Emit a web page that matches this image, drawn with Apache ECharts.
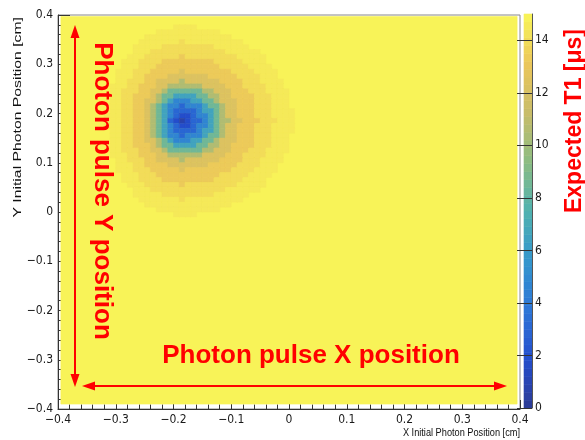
<!DOCTYPE html>
<html>
<head>
<meta charset="utf-8">
<title>Expected T1 map</title>
<script src="https://cdn.jsdelivr.net/npm/echarts@6/dist/echarts.min.js"></script>
<style>
  html, body { margin: 0; padding: 0; background: #fff; }
  #chart { width: 585px; height: 440px; }
</style>
</head>
<body>
<div id="chart"></div>
<script>
// Histogram binning (cm)
const binWidth = 0.01
const histXRange = [-0.395, 0.395]
const histYRange = [-0.39, 0.397]
const backgroundValue = 14.9

// Blob window: top-left bin edge, one string per row (top to bottom)
const blobLeft = -0.32
const blobTop = 0.38
const levelCodes = '0123456789a'
const levelValues = [0.8, 1.8, 3.0, 4.6, 6.5, 8.5, 10.5, 12.3, 13.3, 14.0, 14.5]
const blobRows = [
  '............aaaa.................',
  '.........aaaaaaaaaaa.............',
  '.......aaaaaaaaaaaaaaa...........',
  '......aaaaaaa9aaaaaaaaaa.........',
  '.....aaaaa999999999aaaaaa........',
  '.....aaa9999999999999aaaaaa......',
  '....aaa9999998999999999aaaaa.....',
  '...aaa999988888888899999aaaa.....',
  '...aaa9998888888888899999aaaa....',
  '..aaa999888887888888889999aaaa...',
  '..aaa9988887777777888889999aaa...',
  '..aa99988777767777778888999aaaa..',
  '.aaa998887766666677778889999aaa..',
  '.aa9998877655555566777888999aaaa.',
  '.aa99888765544445566778888999aaa.',
  '.aa99887765433344556777888999aaa.',
  '.aa99887654332333455677888999aaa.',
  '.aa99887654322223445677888999aaaa',
  'aaa99887654321123345677888999aaaa',
  'aaa998876542101223456677888999aaa',
  'aaa99887654321123345677888999aaaa',
  '.aa99887654322223445677888999aaaa',
  '.aa99887654332333455677888999aaa.',
  '.aa99887765433344556777888999aaa.',
  '.aa99888765544445566778888999aaa.',
  '.aa9998877655555566777888999aaaa.',
  '.aaa998887766666677778889999aaa..',
  '..aa99988777767777778888999aaaa..',
  '..aaa9988887777777888889999aaa...',
  '..aaa999888887888888889999aaaa...',
  '...aaa9998888888888899999aaaa....',
  '...aaa999988888888899999aaaa.....',
  '....aaa9999998999999999aaaaa.....',
  '.....aaa9999999999999aaaaaa......',
  '.....aaaaa999999999aaaaaa........',
  '......aaaaaaa9aaaaaaaaaa.........',
  '.......aaaaaaaaaaaaaaa...........',
  '.........aaaaaaaaaaa.............',
  '............aaaa.................',
]

// Colour scale
const colorMin = 0
const colorMax = 15
const colorSteps = 50
const colorTicks = [0, 2, 4, 6, 8, 10, 12, 14]
const palette = ['#2c3a94', '#244ecd', '#2d76d7', '#3496cd', '#50b2af', '#8cbc82', '#c8bc69', '#ebc65a', '#f9f658']

const xTitle = 'X Initial Photon Position [cm]'
const yTitle = 'Y Initial Photon Position [cm]'
const zTitle = 'Expected T1 [\u03bcs]'

const tickFont = '"Liberation Sans Narrow", "DejaVu Sans Condensed", sans-serif'
const red = '#ff0000'

function cmLabel(v) {
  if (Math.abs(v) < 1e-9) return '0'
  return v.toFixed(1).replace('-', '\u2212')
}

// [x0, x1, y0, y1, value]
const cells = [[histXRange[0], histXRange[1], histYRange[0], histYRange[1], backgroundValue]]
blobRows.forEach((row, r) => {
  for (let c = 0; c < row.length; c += 1) {
    const k = levelCodes.indexOf(row[c])
    if (k < 0) continue
    const x0 = blobLeft + c * binWidth
    const y1 = blobTop - r * binWidth
    cells.push([x0, x0 + binWidth, y1 - binWidth, y1, levelValues[k]])
  }
})

// palette bar bands, same layout: [x0, x1, v0, v1, vmid]
const bands = []
const step = (colorMax - colorMin) / colorSteps
for (let i = 0; i < colorSteps; i += 1) {
  const v0 = colorMin + i * step
  bands.push([0, 1, v0, v0 + step, v0 + step / 2])
}

function rectItem(params, api) {
  const a = api.coord([api.value(0), api.value(3)])
  const b = api.coord([api.value(1), api.value(2)])
  const color = api.visual('color')
  return {
    type: 'rect',
    shape: { x: a[0], y: a[1], width: b[0] - a[0], height: b[1] - a[1] },
    style: { fill: color, stroke: color, lineWidth: 0.6 },
  }
}

const chart = echarts.init(document.getElementById('chart'))

const cmAxis = (tickLen) => ({
  type: 'value',
  min: -0.4,
  max: 0.4,
  interval: 0.1,
  axisLine: { show: true, onZero: false, lineStyle: { color: '#333', width: 1 } },
  axisTick: { show: true, inside: true, length: tickLen, lineStyle: { color: '#333' } },
  minorTick: { show: true, splitNumber: 5, length: tickLen / 2, lineStyle: { color: '#333' } },
  splitLine: { show: false },
  axisLabel: { formatter: cmLabel, fontSize: 12, color: '#1a1a1a', fontFamily: tickFont, margin: 5 },
})

chart.setOption({
  animation: false,
  grid: [
    { left: 58, top: 15, width: 462, height: 394, show: true, borderColor: '#888', borderWidth: 1 },
    { left: 524, top: 14, width: 8, height: 394, show: false },
  ],
  xAxis: [
    Object.assign(cmAxis(9), { gridIndex: 0 }),
    { gridIndex: 1, type: 'value', min: 0, max: 1, show: false },
  ],
  yAxis: [
    Object.assign(cmAxis(12), { gridIndex: 0 }),
    {
      gridIndex: 1,
      type: 'value',
      position: 'right',
      min: colorMin,
      max: colorMax,
      z: 10,
      axisLine: { show: true, onZero: false, lineStyle: { color: '#555' } },
      axisTick: { show: true, inside: true, length: 15, customValues: colorTicks, lineStyle: { color: '#333' } },
      axisLabel: { customValues: colorTicks, fontSize: 12, color: '#1a1a1a', fontFamily: tickFont, margin: 3 },
      splitLine: { show: false },
    },
  ],
  visualMap: {
    type: 'continuous',
    show: false,
    min: colorMin,
    max: colorMax,
    dimension: 4,
    seriesIndex: [0, 1],
    inRange: { color: palette },
  },
  series: [
    {
      type: 'custom',
      xAxisIndex: 0,
      yAxisIndex: 0,
      data: cells,
      encode: { x: [0, 1], y: [2, 3] },
      clip: true,
      silent: true,
      renderItem: rectItem,
    },
    {
      type: 'custom',
      xAxisIndex: 1,
      yAxisIndex: 1,
      z: 1,
      data: bands,
      encode: { x: [0, 1], y: [2, 3] },
      silent: true,
      renderItem: rectItem,
    },
  ],
  graphic: {
    elements: [
      // axis titles
      {
        type: 'text', x: 520, y: 433, scaleX: 0.8, z: 100,
        style: { text: xTitle, font: '11.5px "Liberation Sans", Arial, sans-serif', fill: '#111', align: 'right', verticalAlign: 'middle' },
      },
      {
        type: 'text', x: 18, y: 17, rotation: Math.PI / 2, scaleX: 1.37, z: 100,
        style: { text: yTitle, font: '11.5px "Liberation Sans", Arial, sans-serif', fill: '#111', align: 'right', verticalAlign: 'middle' },
      },
      // red annotations
      {
        type: 'text', x: 102.5, y: 191, rotation: -Math.PI / 2, z: 100,
        style: { text: 'Photon pulse Y position', font: 'bold 26px "Liberation Sans", Arial, sans-serif', fill: red, align: 'center', verticalAlign: 'middle' },
      },
      {
        type: 'text', x: 311, y: 356, z: 100,
        style: { text: 'Photon pulse X position', font: 'bold 26px "Liberation Sans", Arial, sans-serif', fill: red, align: 'center', verticalAlign: 'middle' },
      },
      {
        type: 'text', x: 575, y: 121, rotation: Math.PI / 2, z: 100,
        style: { text: zTitle, font: 'bold 23px "Liberation Sans", Arial, sans-serif', fill: red, align: 'center', verticalAlign: 'middle' },
      },
      { type: 'line', z: 100, shape: { x1: 75, y1: 36, x2: 75, y2: 376 }, style: { stroke: red, lineWidth: 2 } },
      { type: 'polygon', z: 100, shape: { points: [[75, 25], [70.5, 38], [79.5, 38]] }, style: { fill: red } },
      { type: 'polygon', z: 100, shape: { points: [[75, 387], [70.5, 374], [79.5, 374]] }, style: { fill: red } },
      { type: 'line', z: 100, shape: { x1: 93, y1: 386, x2: 496, y2: 386 }, style: { stroke: red, lineWidth: 2 } },
      { type: 'polygon', z: 100, shape: { points: [[82, 386], [95, 381.5], [95, 390.5]] }, style: { fill: red } },
      { type: 'polygon', z: 100, shape: { points: [[507, 386], [494, 381.5], [494, 390.5]] }, style: { fill: red } },
    ],
  },
})
</script>
</body>
</html>
